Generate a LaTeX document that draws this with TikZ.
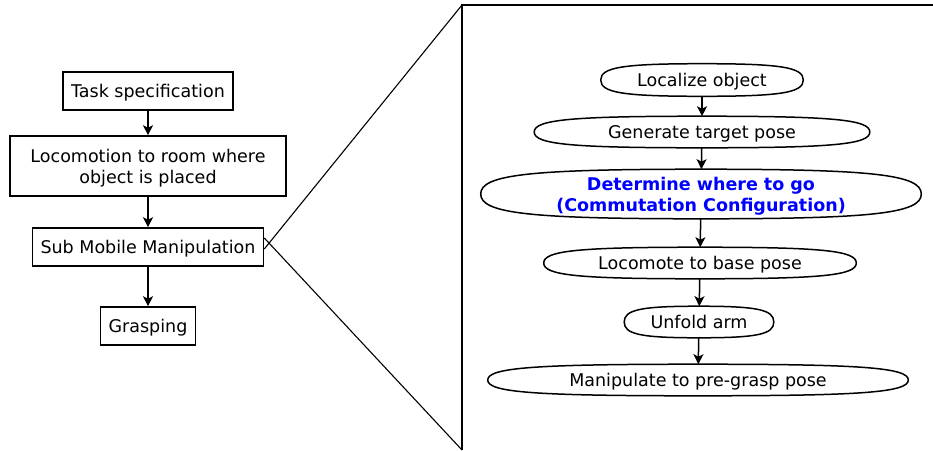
\documentclass[tikz,border=0pt]{standalone}
\usepackage{fontspec}
\setmainfont{DejaVu Sans}
\usetikzlibrary{calc,arrows.meta}
\definecolor{stepblue}{RGB}{0,0,255}
\begin{document}
\begin{tikzpicture}[x=1pt,y=-1pt,
  font=\fontsize{17.5}{21}\selectfont,
  line width=1.6pt,
  taskbox/.style={draw,rectangle,inner sep=0pt,align=center,text depth=0pt,line width=1.6pt},
  substep/.style={rectangle,inner sep=0pt,align=center,text depth=0pt},
  flow/.style={-{Stealth[length=10pt,width=10pt,inset=2.5pt]},line width=1.5pt}]
\useasboundingbox (0,0) rectangle (933,450);

% main task sequence
\node[taskbox,minimum width=170,minimum height=38] (task) at (148,91) {Task specification};
\node[taskbox,minimum width=276,minimum height=60] (loco) at (148,166) {Locomotion to room where\\object is placed};
\node[taskbox,minimum width=231,minimum height=38] (sub) at (148,247) {Sub Mobile Manipulation};
\node[taskbox,minimum width=95,minimum height=38] (grasp) at (148,326) {Grasping};

\draw[flow] (task) -- (loco);
\draw[flow] (loco) -- (sub);
\draw[flow] (sub) -- (grasp);

% detail panel of the sub mobile manipulation step
\coordinate (ptop) at (462,5);
\coordinate (pbot) at (462,450);
\coordinate (pright) at (933,5);
\draw[line width=1.6pt] (pbot) -- (ptop) -- (pright);
\draw[line width=1.1pt] ([yshift=-2pt]sub.east) -- (ptop);
\draw[line width=1.1pt] ([yshift=9pt]sub.east) -- (pbot);

\node[substep,minimum width=201,minimum height=31] (loc) at (702,80) {Localize object};
\node[substep,minimum width=334,minimum height=30] (gen) at (702,132) {Generate target pose};
\node[substep,minimum width=439,minimum height=48,text=stepblue,font=\fontsize{17.5}{21}\selectfont\bfseries] (det) at (701,194) {Determine where to go\\(Commutation Configuration)};
\node[substep,minimum width=311,minimum height=30] (base) at (700,263) {Locomote to base pose};
\node[substep,minimum width=148,minimum height=30] (arm) at (699,322) {Unfold arm};
\node[substep,minimum width=419,minimum height=30] (mani) at (698,380) {Manipulate to pre-grasp pose};

% oval outlines of the sub steps
\def\k{0.78}
\foreach \n in {loc,gen,det,base,arm,mani}{
  \draw[line width=1.5pt]
    (\n.east)
      .. controls ($(\n.east)!\k!(\n.north east)$) and ($(\n.north)!\k!(\n.north east)$) .. (\n.north)
      .. controls ($(\n.north)!\k!(\n.north west)$) and ($(\n.west)!\k!(\n.north west)$) .. (\n.west)
      .. controls ($(\n.west)!\k!(\n.south west)$) and ($(\n.south)!\k!(\n.south west)$) .. (\n.south)
      .. controls ($(\n.south)!\k!(\n.south east)$) and ($(\n.east)!\k!(\n.south east)$) .. (\n.east)
      -- cycle;
}

\draw[flow] (loc) -- (gen);
\draw[flow] (gen) -- (det);
\draw[flow] (det) -- (base);
\draw[flow] (base) -- (arm);
\draw[flow] (arm) -- (mani);
\end{tikzpicture}
\end{document}
